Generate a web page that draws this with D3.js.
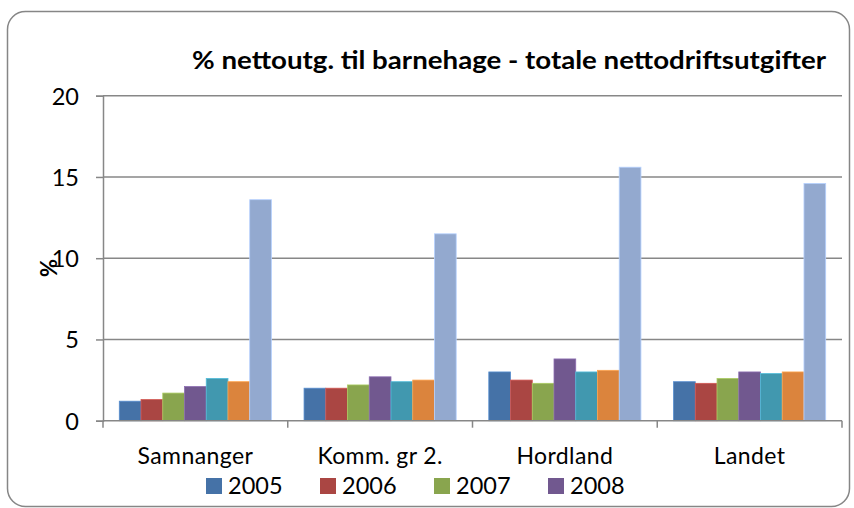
<!DOCTYPE html>
<html>
<head>
<meta charset="utf-8">
<script src="https://cdn.jsdelivr.net/npm/d3@7"></script>
<style>
  html, body { margin: 0; padding: 0; background: #fff; }
  svg { display: block; }
  text { font-family: Lato, "Open Sans", sans-serif; fill: #000; }
</style>
</head>
<body>
<svg id="chart" width="854" height="508"></svg>
<script>
// Regions along the x axis
const categories = ["Samnanger", "Komm. gr 2.", "Hordland", "Landet"];

// One array per series, in category order (percent)
const series2005 = [1.2, 2.0, 3.0, 2.4];
const series2006 = [1.3, 2.0, 2.5, 2.3];
const series2007 = [1.7, 2.2, 2.3, 2.6];
const series2008 = [2.1, 2.7, 3.8, 3.0];
const series2009 = [2.6, 2.4, 3.0, 2.9];
const series2010 = [2.4, 2.5, 3.1, 3.0];
const series2011 = [13.6, 11.5, 15.6, 14.6];

const seriesNames = ["2005", "2006", "2007", "2008", "2009", "2010", "2011"];
const legendNames = ["2005", "2006", "2007", "2008"];
const yTicks = [0, 5, 10, 15, 20];

const seriesValues = [series2005, series2006, series2007, series2008,
                      series2009, series2010, series2011];
const colors = ["#4572a7", "#aa4643", "#89a54e", "#71588f", "#4198af", "#db843d", "#93a9cf"];

const svg = d3.select("#chart");

// Rounded outer frame
svg.append("rect")
  .attr("x", 7.5).attr("y", 11.5)
  .attr("width", 842).attr("height", 495)
  .attr("rx", 18).attr("ry", 18)
  .attr("fill", "#fff").attr("stroke", "#868686").attr("stroke-width", 1.5);

const plot = { left: 103, right: 842, top: 95.7, bottom: 420.7 };

const x = d3.scaleBand().domain(categories).range([plot.left, plot.right]).paddingInner(0).paddingOuter(0);
const x1 = d3.scaleBand().domain(seriesNames).range([0, x.bandwidth()]).paddingOuter(0.75).paddingInner(0);
const y = d3.scaleLinear().domain([0, 20]).range([plot.bottom, plot.top]);

// Horizontal gridlines
svg.append("g").selectAll("line").data(yTicks.slice(1)).join("line")
  .attr("x1", plot.left).attr("x2", plot.right)
  .attr("y1", d => y(d)).attr("y2", d => y(d))
  .attr("stroke", "#878787").attr("stroke-width", 1.5);

// Bars
const table = categories.map((c, i) => ({ cat: c, vals: seriesNames.map((s, j) => ({ s, j, v: seriesValues[j][i] })) }));
svg.append("g").selectAll("g").data(table).join("g")
  .attr("transform", d => `translate(${x(d.cat)},0)`)
  .selectAll("rect").data(d => d.vals).join("rect")
  .attr("x", d => x1(d.s))
  .attr("width", x1.bandwidth())
  .attr("y", d => y(d.v))
  .attr("height", d => y(0) - y(d.v))
  .attr("fill", d => colors[d.j])
  .attr("stroke", d => d3.color(colors[d.j]).brighter(0.6))
  .attr("stroke-width", 0.8);

// Y axis
const yAxis = d3.axisLeft(y).tickValues(yTicks).tickSize(7).tickPadding(17);
const gy = svg.append("g").attr("transform", `translate(${plot.left},0)`).call(yAxis);
gy.select(".domain").attr("stroke", "#878787").attr("stroke-width", 1.5);
gy.selectAll(".tick line").attr("stroke", "#878787").attr("stroke-width", 1.5);
gy.selectAll(".tick text").attr("font-size", 23.5).attr("font-family", "Lato, sans-serif").attr("fill", "#000").attr("dy", "0.36em");

// X axis with boundary ticks between categories
const gx = svg.append("g").attr("transform", `translate(0,${plot.bottom})`);
gx.append("line").attr("x1", plot.left).attr("x2", plot.right)
  .attr("stroke", "#878787").attr("stroke-width", 1.5);
const bounds = categories.map(c => x(c)).concat([plot.right]);
gx.selectAll("line.b").data(bounds).join("line").attr("class", "b")
  .attr("x1", d => d).attr("x2", d => d).attr("y1", 0).attr("y2", 7)
  .attr("stroke", "#878787").attr("stroke-width", 1.5);
gx.selectAll("text").data(categories).join("text")
  .attr("x", d => x(d) + x.bandwidth() / 2).attr("y", 43)
  .attr("text-anchor", "middle").attr("font-size", 23).attr("letter-spacing", 0.4)
  .text(d => d);

// Axis title
svg.append("text")
  .attr("transform", "translate(57,268) rotate(-90)")
  .attr("text-anchor", "middle").attr("font-size", 22).attr("font-weight", "bold")
  .text("%");

// Chart title
svg.append("text")
  .attr("x", 509).attr("y", 69)
  .attr("text-anchor", "middle").attr("font-size", 25.5).attr("font-weight", "bold")
  .attr("textLength", 634).attr("lengthAdjust", "spacingAndGlyphs")
  .text("% nettoutg. til barnehage - totale nettodriftsutgifter");

// Legend
const leg = svg.append("g").selectAll("g").data(legendNames).join("g")
  .attr("transform", (d, i) => `translate(${206 + i * 114},478)`);
leg.append("rect").attr("width", 16).attr("height", 16)
  .attr("fill", (d, i) => colors[i]);
leg.append("text").attr("x", 22).attr("y", 16)
  .attr("font-size", 23.5).text(d => d);
</script>
</body>
</html>
